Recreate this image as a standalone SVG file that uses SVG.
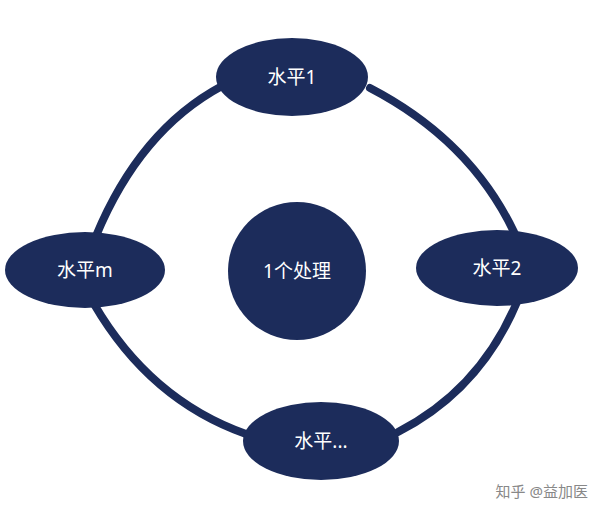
<svg xmlns="http://www.w3.org/2000/svg" width="600" height="515" viewBox="0 0 600 515">
<style>
.n{fill:#1c2c5b}
.c{fill:none;stroke:#1c2c5b;stroke-width:8;stroke-linecap:round}
.t{fill:#fff;font-family:"Noto Sans","Noto Sans CJK SC",sans-serif;font-size:19px;text-anchor:middle;dominant-baseline:central}
.w{fill:#888;font-family:"Noto Sans","Noto Sans CJK SC",sans-serif;font-size:15px;text-anchor:end}
</style>
<rect width="600" height="515" fill="#fff"/>
<g id="connectors">
<path class="c" d="M222,86 Q140,130 96,236"/>
<path class="c" d="M370,88 Q470,140 514,232"/>
<path class="c" d="M517,302 Q480,390 398,432"/>
<path class="c" d="M94,304 Q150,400 246,434"/>
</g>
<g id="top"><ellipse class="n" cx="292" cy="77" rx="76" ry="39"/><text class="t" x="292" y="77">水平1</text></g>
<g id="right"><ellipse class="n" cx="497" cy="268" rx="81" ry="38"/><text class="t" x="497" y="268">水平2</text></g>
<g id="left"><ellipse class="n" cx="85" cy="270" rx="80" ry="38"/><text class="t" x="85" y="270">水平m</text></g>
<g id="bottom"><ellipse class="n" cx="321" cy="441" rx="78" ry="39"/><text class="t" x="321" y="441">水平...</text></g>
<g id="center"><circle class="n" cx="297" cy="271" r="69"/><text class="t" x="297" y="271">1个处理</text></g>
<text class="w" x="588" y="497">知乎 @益加医</text>
</svg>
